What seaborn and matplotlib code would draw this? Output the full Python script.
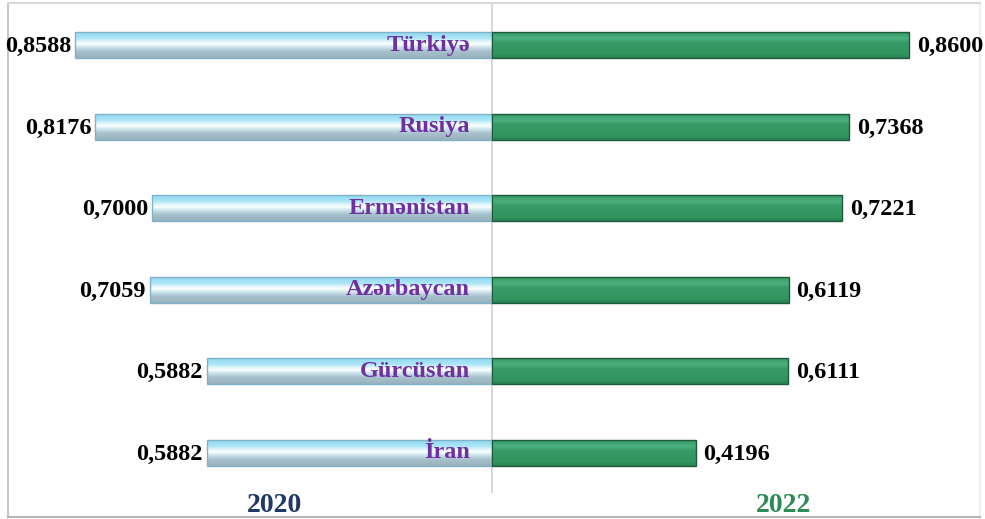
import pandas as pd
import numpy as np
import seaborn as sns
import matplotlib.pyplot as plt
from matplotlib.colors import LinearSegmentedColormap

countries = ["Türkiyə", "Rusiya", "Ermənistan", "Azərbaycan", "Gürcüstan", "İran"]
values_2020 = [0.8588, 0.8176, 0.7000, 0.7059, 0.5882, 0.5882]
values_2022 = [0.8600, 0.7368, 0.7221, 0.6119, 0.6111, 0.4196]
years = ["2020", "2022"]


def add_gradient(ax, patches, stops, edge):
    """Tô màu chuyển sắc theo chiều dọc cho từng thanh"""
    cmap = LinearSegmentedColormap.from_list("bar", stops)
    grad = np.linspace(0, 1, 128).reshape(-1, 1)
    for p in patches:
        x0, y0 = p.get_x(), p.get_y()
        w, h = p.get_width(), p.get_height()
        im = ax.imshow(grad, cmap=cmap, aspect="auto", zorder=2,
                       extent=(x0, x0 + w, y0 + h, y0), interpolation="bilinear")
        im.set_clip_path(p)
        p.set_facecolor("none")
        p.set_edgecolor(edge)
        p.set_linewidth(1.0)
        p.set_zorder(3)


def save_butterfly_plot(df, output="out.png"):
    """Vẽ biểu đồ hai phía 2020 / 2022 và lưu ra file ảnh"""
    sns.set_style("white")
    plt.rcParams['font.family'] = ['Liberation Serif', 'DejaVu Serif']
    plt.rcParams['font.weight'] = 'bold'

    fig = plt.figure(figsize=(9.85, 5.19), dpi=100)
    ax = fig.add_axes([8 / 985, 2 / 519, 972 / 985, 514 / 519])

    # --- 1. Thanh năm 2020 (bên trái) ---
    sns.barplot(x=-df["y2020"], y=df["country"], orient="h", width=0.32,
                color="#9EDCF2", ax=ax)
    left_bars = list(ax.patches)
    add_gradient(ax, left_bars,
                 [(0.0, "#8ED9F2"), (0.25, "#A9E4F7"), (0.4, "#E6F7FD"),
                  (0.48, "#FBFEFF"), (0.58, "#D2E8F0"), (0.75, "#A8C2CD"),
                  (1.0, "#97B1BD")], "#7FB1C9")

    # --- 2. Thanh năm 2022 (bên phải) ---
    sns.barplot(x=df["y2022"], y=df["country"], orient="h", width=0.32,
                color="#339966", ax=ax)
    right_bars = [p for p in ax.patches if p not in left_bars]
    add_gradient(ax, right_bars,
                 [(0.0, "#2C8A59"), (0.15, "#3FA673"), (0.28, "#4DAF7E"),
                  (0.42, "#379B69"), (0.85, "#32955F"), (1.0, "#2A8055")], "#1E5B3C")

    # Nhãn giá trị
    for i, (v0, v1) in enumerate(zip(df["y2020"], df["y2022"])):
        ax.annotate(f"{v0:.4f}".replace(".", ","), xy=(-v0, i), xytext=(-3, -1),
                    textcoords="offset points", ha="right", va="center",
                    fontsize=17.5, fontweight="bold", color="black", zorder=5)
        ax.annotate(f"{v1:.4f}".replace(".", ","), xy=(v1, i), xytext=(5.5, -1),
                    textcoords="offset points", ha="left", va="center",
                    fontsize=17.5, fontweight="bold", color="black", zorder=5)
        ax.annotate(df["country"][i], xy=(0, i), xytext=(-16, 0),
                    textcoords="offset points", ha="right", va="center",
                    fontsize=17.5, fontweight="bold", color="#7030A0", zorder=5)

    ax.axvline(0, ymin=0.049, ymax=1, color="#D9D9D9", lw=1.5, zorder=1)

    ax.set_xlim(-484 / 485, 488 / 485)
    ax.set_ylim(5 + 64 / 81.6, -42 / 81.6)
    ax.set_xticks([])
    ax.set_yticks([])
    ax.set_xlabel("")
    ax.set_ylabel("")
    for side, col in {"left": "#C8C8C8", "bottom": "#B5B5B5",
                      "top": "#DADADA", "right": "#F0F0F0"}.items():
        ax.spines[side].set_color(col)
        ax.spines[side].set_linewidth(1.5)

    # Nhãn năm ở dưới
    fig.text(275 / 985, 0.002, years[0], ha="center", va="bottom",
             fontsize=20, fontweight="bold", color="#1F3864")
    fig.text(784 / 985, 1 - 505 / 519, years[1], ha="center", va="center",
             fontsize=20, fontweight="bold", color="#2E8B57")

    plt.savefig(output)  # Lưu ảnh
    plt.close()


if __name__ == "__main__":
    data = pd.DataFrame({"country": countries,
                         "y2020": values_2020,
                         "y2022": values_2022})
    save_butterfly_plot(data)
